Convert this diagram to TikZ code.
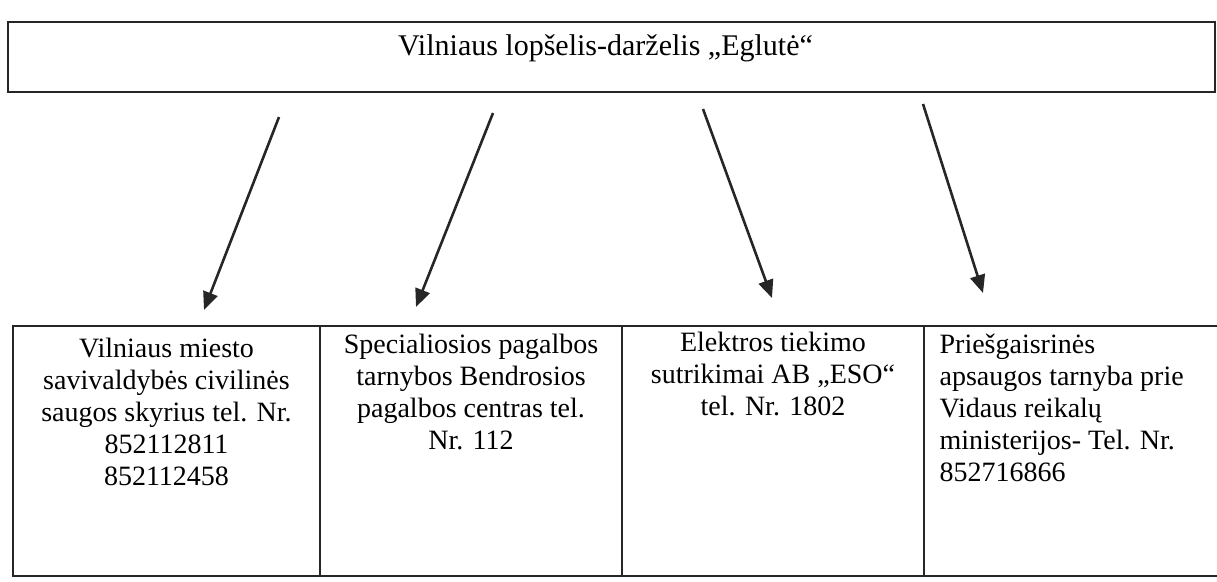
\documentclass[tikz,border=0pt]{standalone}
\usepackage{fontspec}
\setmainfont{Liberation Serif}
\usetikzlibrary{arrows.meta,positioning}
\tikzset{
  box/.style={draw=black!85, line width=1.2pt, inner sep=0pt},
  txt/.style={font=\fontsize{28}{32}\selectfont, inner sep=0pt, anchor=north},
  arr/.style={draw=black!85, line width=2.6pt, -{Triangle[length=18pt,width=15pt]}}
}
\begin{document}
\begin{tikzpicture}[x=1pt,y=-1pt]
      \useasboundingbox (0,0) rectangle (1217,581);
      \node(T)[box, minimum width=1207pt, minimum height=70pt] at (611.5,57) {};
      \node(TT)[txt, font=\fontsize{30}{34}\selectfont, below=13pt of T.north, xshift=-6pt] {Vilniaus lopšelis-darželis „Eglutė“};
      \foreach \x/\l/\r in{1/13/320, 2/320/622, 3/622/924, 4/924/1240}{
        \node(C\x)[box, minimum width={(\r-\l)*1pt}, minimum height=250pt] at ({(\l+\r)/2}, 451) {};
      }
      \node(N1)[txt, align=center, below=12pt of C1.north] {Vilniaus miesto\\savivaldybės civilinės\\saugos skyrius tel. Nr.\\852112811\\852112458};
      \node(N2)[txt, align=center, below=8pt of C2.north] {Specialiosios pagalbos\\tarnybos Bendrosios\\pagalbos centras tel.\\Nr. 112};
      \node(N3)[txt, align=center, below=6pt of C3.north] {Elektros tiekimo\\sutrikimai AB „ESO“\\tel. Nr. 1802};
      \node(N4)[txt, align=left, anchor=north west, below right=8pt and 16pt of C4.north west] {Priešgaisrinės\\apsaugos tarnyba prie\\Vidaus reikalų\\ministerijos- Tel. Nr.\\852716866};
      \foreach \x/\a/\b/\c/\d in{1/279/117/204/310, 2/493/113/416/307, 3/703/109/772/298, 4/923/104/983/293}{
        \coordinate(S\x) at (\a,\b);
        \coordinate(E\x) at (\c,\d);
        \draw[arr](S\x)--(E\x);
      }
    \end{tikzpicture}
\end{document}
